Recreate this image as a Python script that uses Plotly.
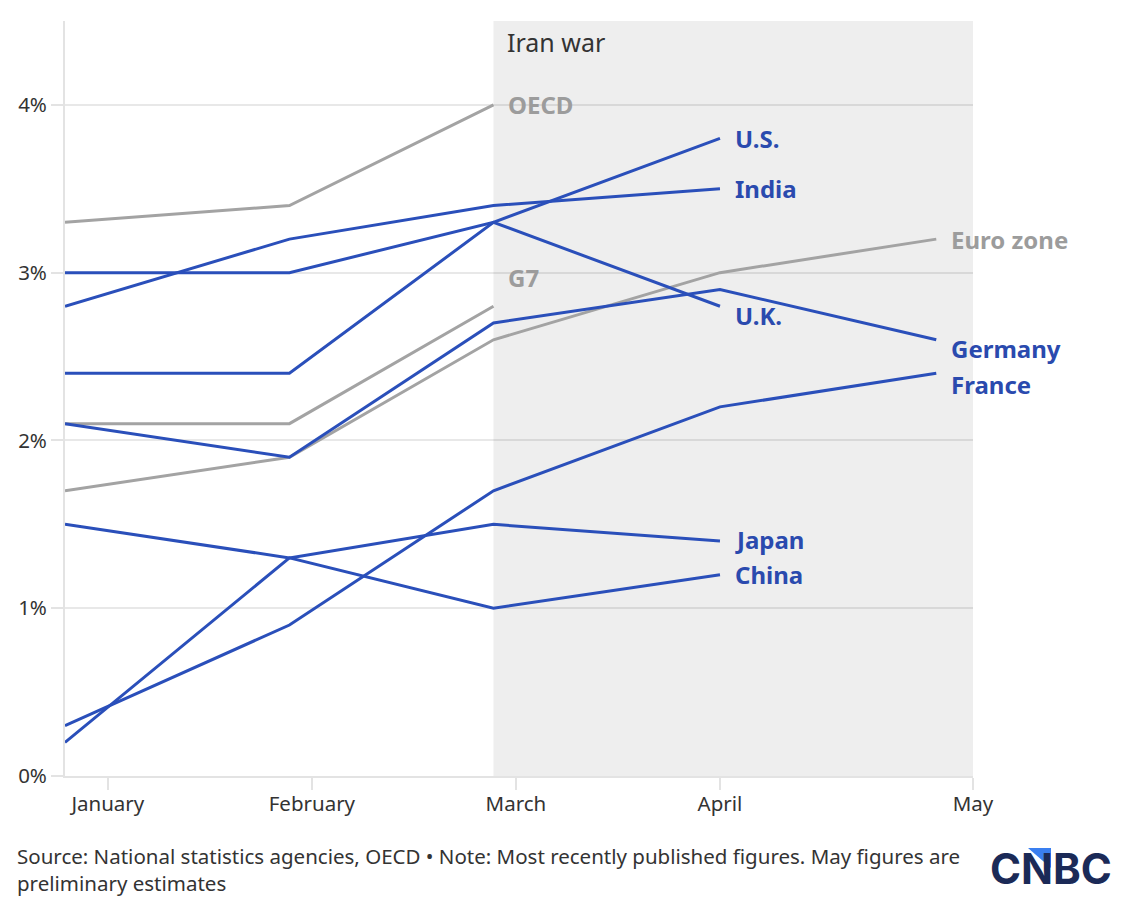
import plotly.graph_objects as go

# ---------------- data ----------------
MONTHS = ["January", "February", "March", "April", "May"]
# x positions of the monthly observations and of the month ticks on the chart's scale
POINT_X = [0.0, 1.10, 2.10, 3.21, 4.27]
TICK_X = [0.21, 1.21, 2.21, 3.21, 4.45]

Y_TICKS = [0, 1, 2, 3, 4]
Y_TICK_TEXT = ["0%", "1%", "2%", "3%", "4%"]

# inflation, % (aggregates in gray, countries in blue)
OECD = [3.3, 3.4, 4.0]
G7 = [2.1, 2.1, 2.8]
EURO_ZONE = [1.7, 1.9, 2.6, 3.0, 3.2]

US = [2.4, 2.4, 3.3, 3.8]
INDIA = [2.8, 3.2, 3.4, 3.5]
UK = [3.0, 3.0, 3.3, 2.8]
GERMANY = [2.1, 1.9, 2.7, 2.9, 2.6]
FRANCE = [0.3, 0.9, 1.7, 2.2, 2.4]
JAPAN = [1.5, 1.3, 1.5, 1.4]
CHINA = [0.2, 1.3, 1.0, 1.2]

GRAY_SERIES = [("OECD", OECD), ("G7", G7), ("Euro zone", EURO_ZONE)]
BLUE_SERIES = [("U.S.", US), ("India", INDIA), ("U.K.", UK), ("Germany", GERMANY),
               ("France", FRANCE), ("Japan", JAPAN), ("China", CHINA)]

SHADE_START = "March"
SHADE_LABEL = "Iran war"
SOURCE = ("Source: National statistics agencies, OECD • Note: Most recently published figures. "
          "May figures are<br>preliminary estimates")

# ---------------- style ----------------
W, H = 1148, 904
ML, MR, MT, MB = 65, 175, 21, 128
PW, PH = W - ML - MR, H - MT - MB

BLUE = "#2a4fba"
BLUE_TXT = "#2a4aae"
GRAY = "#a3a3a3"
GRAY_TXT = "#9c9c9c"
FONT = "Noto Sans"
AX = "#e3e3e3"

LABEL_SHIFT = {"U.K.": -9, "Germany": -9, "France": -11, "G7": 29, "Japan": 2}


def px_x(px):
    return (px - ML) / PW


def px_y(py):
    return (H - MB - py) / PH


fig = go.Figure()
annotations = []

for series, color, tcolor in ((GRAY_SERIES, GRAY, GRAY_TXT), (BLUE_SERIES, BLUE, BLUE_TXT)):
    for name, vals in series:
        xs = POINT_X[:len(vals)]
        fig.add_trace(go.Scatter(x=xs, y=vals, mode="lines", name=name,
                                 line=dict(color=color, width=3),
                                 hoverinfo="skip", showlegend=False))
        annotations.append(dict(x=xs[-1], y=vals[-1], xref="x", yref="y", text=f"<b>{name}</b>",
                                showarrow=False, xanchor="left", yanchor="middle",
                                xshift=13, yshift=LABEL_SHIFT.get(name, 0),
                                font=dict(family=FONT, size=24, color=tcolor)))

x_shade0 = POINT_X[MONTHS.index(SHADE_START)]
x_end = TICK_X[-1]

fig.add_shape(type="rect", xref="x", yref="paper", x0=x_shade0, x1=x_end, y0=0, y1=1,
              fillcolor="#eeeeee", line=dict(width=0), layer="below")

annotations.append(dict(x=x_shade0, y=1, xref="x", yref="paper", text=SHADE_LABEL,
                        showarrow=False, xanchor="left", yanchor="top", xshift=12, yshift=-2,
                        font=dict(family=FONT, size=25, color="#333333")))

annotations.append(dict(x=px_x(15), y=px_y(840), xref="paper", yref="paper", text=SOURCE,
                        showarrow=False, xanchor="left", yanchor="top", align="left",
                        font=dict(family=FONT, size=20.5, color="#333333")))

annotations.append(dict(x=px_x(1051), y=px_y(868), xref="paper", yref="paper", text="<b>CNBC</b>",
                        showarrow=False, xanchor="center", yanchor="middle",
                        font=dict(family="Inter", size=42, color="#1b2a57")))

fig.add_shape(type="path", xref="paper", yref="paper",
              path=f"M {px_x(1028)} {px_y(848)} L {px_x(1051)} {px_y(848)} L {px_x(1051)} {px_y(868)} Z",
              fillcolor="#3a7ff0", line=dict(width=0), layer="above")

tickfont = dict(family=FONT, size=20.5, color="#333333")

fig.update_layout(
    width=W, height=H,
    margin=dict(l=ML, r=MR, t=MT, b=MB),
    paper_bgcolor="white", plot_bgcolor="white",
    annotations=annotations,
    xaxis=dict(range=[0, x_end], tickvals=TICK_X, ticktext=MONTHS,
               showgrid=False, zeroline=False, showline=True, linecolor=AX, linewidth=2,
               ticks="outside", ticklen=12, tickwidth=2, tickcolor=AX, ticklabelstandoff=-4,
               tickfont=tickfont, fixedrange=True),
    yaxis=dict(range=[0, 4.5], tickvals=Y_TICKS, ticktext=Y_TICK_TEXT,
               showgrid=True, gridcolor="rgba(0,0,0,0.09)", gridwidth=2, zeroline=False,
               showline=True, linecolor=AX, linewidth=2,
               ticks="outside", ticklen=12, tickwidth=2, tickcolor=AX,
               tickfont=tickfont, fixedrange=True),
)

fig.write_html("out.html")
